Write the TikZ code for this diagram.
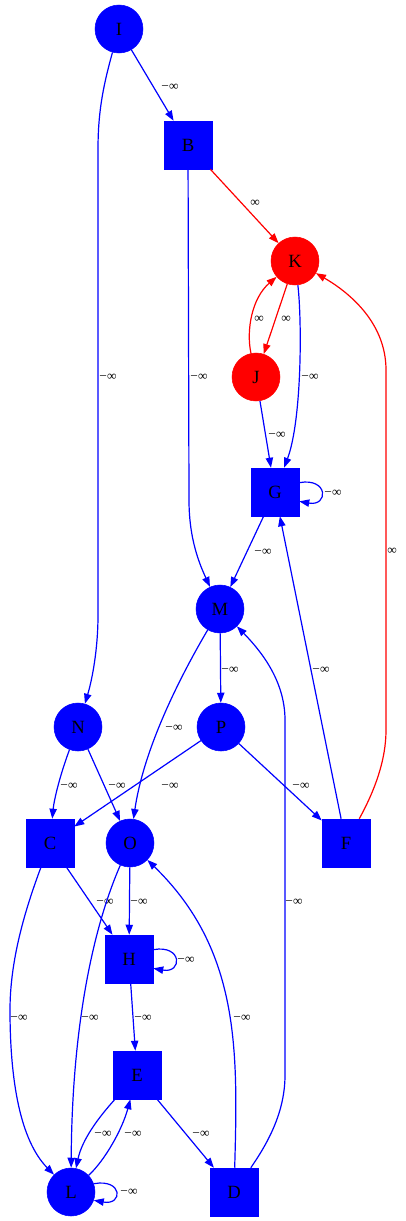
\documentclass[tikz,border=0pt]{standalone}
\usepackage{fontspec}
\setmainfont{Liberation Serif}
\usetikzlibrary{arrows.meta,calc}
\begin{document}
\begin{tikzpicture}[x=0.75pt,y=-0.75pt,
  vcirc/.style={circle, fill=blue, draw=blue, minimum size=36pt, inner sep=0pt, font=\fontsize{14}{16}\selectfont},
  rcirc/.style={vcirc, fill=red, draw=red},
  vbox/.style={rectangle, fill=blue, draw=blue, minimum size=36pt, inner sep=0pt, font=\fontsize{14}{16}\selectfont},
  be/.style={draw=blue, line width=0.9pt, -{Triangle[length=7.5pt,width=5.5pt]}},
  re/.style={be, draw=red},
  lbl/.style={font=\fontsize{10}{12}\selectfont, inner sep=0pt}]
\useasboundingbox (0,0) rectangle (405,1221);
% nodes
\node[vcirc] (I) at (119,29) {I};
\node[vbox]  (B) at (188,145) {B};
\node[rcirc] (K) at (295,261) {K};
\node[rcirc] (J) at (256,377) {J};
\node[vbox]  (G) at (275,492) {G};
\node[vcirc] (M) at (220,609) {M};
\node[vcirc] (N) at (78,727) {N};
\node[vcirc] (P) at (221,727) {P};
\node[vbox]  (C) at (50,843) {C};
\node[vcirc] (O) at (130,843) {O};
\node[vbox]  (F) at (346,843) {F};
\node[vbox]  (H) at (129,959) {H};
\node[vbox]  (E) at (137,1075) {E};
\node[vcirc] (L) at (71,1192) {L};
\node[vbox]  (D) at (234,1192) {D};
% edges
\draw[be] (I) -- (B);
\node[lbl] at (170,87) {−∞};
\draw[be] (I) .. controls (102,90) and (98,115) .. (98,150) -- (98,615) .. controls (98,650) and (92,680) .. (N);
\node[lbl] at (108,377) {−∞};
\draw[re] (B) -- (K);
\node[lbl] at (255,203) {∞};
\draw[be] (B) -- (189,500) .. controls (189,540) and (200,565) .. (M);
\node[lbl] at (199,377) {−∞};
\draw[re] (K) -- (J);
\node[lbl] at (286,319) {∞};
\draw[re] (J) .. controls (246,330) and (252,298) .. (K);
\node[lbl] at (259,319) {∞};
\draw[be] (K) .. controls (302,320) and (302,420) .. (G);
\node[lbl] at (310,377) {−∞};
\draw[re] (F) .. controls (375,790) and (386,760) .. (386,730) -- (386,370) .. controls (386,320) and (345,290) .. (K);
\node[lbl] at (392,551) {∞};
\draw[be] (J) -- (G);
\node[lbl] at (277,435) {−∞};
\draw[be] ([yshift=7pt]G.east) .. controls +(22pt,4pt) and +(22pt,-4pt) .. ([yshift=-7pt]G.east);
\node[lbl] at (333,493) {−∞};
\draw[be] (G) -- (M);
\node[lbl] at (263,552) {−∞};
\draw[be] (F) -- (G);
\node[lbl] at (321,670) {−∞};
\draw[be] (M) -- (P);
\node[lbl] at (230,670) {−∞};
\draw[be] (M) .. controls (190,660) and (145,740) .. (O);
\node[lbl] at (174,728) {−∞};
\draw[be] (D) .. controls (270,1140) and (285,1110) .. (285,1075) -- (285,720) .. controls (285,680) and (260,650) .. (M);
\node[lbl] at (294,902) {−∞};
\draw[be] (N) .. controls (60,775) and (54,800) .. (C);
\node[lbl] at (69,786) {−∞};
\draw[be] (N) -- (O);
\node[lbl] at (117,786) {−∞};
\draw[be] (P) -- (C);
\node[lbl] at (170,786) {−∞};
\draw[be] (P) -- (F);
\node[lbl] at (301,786) {−∞};
\draw[be] (C) -- (H);
\node[lbl] at (105,902) {−∞};
\draw[be] (O) -- (H);
\node[lbl] at (139,902) {−∞};
\draw[be] (C) .. controls (25,910) and (10,960) .. (10,1010) .. controls (10,1080) and (20,1140) .. (L);
\node[lbl] at (19,1018) {−∞};
\draw[be] (O) .. controls (92,930) and (72,1030) .. (L);
\node[lbl] at (90,1018) {−∞};
\draw[be] (D) .. controls (238,1050) and (240,950) .. (O);
\node[lbl] at (242,1018) {−∞};
\draw[be] ([yshift=7pt]H.east) .. controls +(22pt,4pt) and +(22pt,-4pt) .. ([yshift=-7pt]H.east);
\node[lbl] at (186,960) {−∞};
\draw[be] (H) -- (E);
\node[lbl] at (143,1018) {−∞};
\draw[be] (E) .. controls (98,1118) and (82,1140) .. (L);
\node[lbl] at (103,1134) {−∞};
\draw[be] (L) .. controls (105,1160) and (122,1130) .. (E);
\node[lbl] at (133,1134) {−∞};
\draw[be] (E) -- (D);
\node[lbl] at (201,1134) {−∞};
\draw[be] (L.20) .. controls +(22pt,4pt) and +(22pt,-4pt) .. (L.-20);
\node[lbl] at (129,1192) {−∞};
\end{tikzpicture}
\end{document}
